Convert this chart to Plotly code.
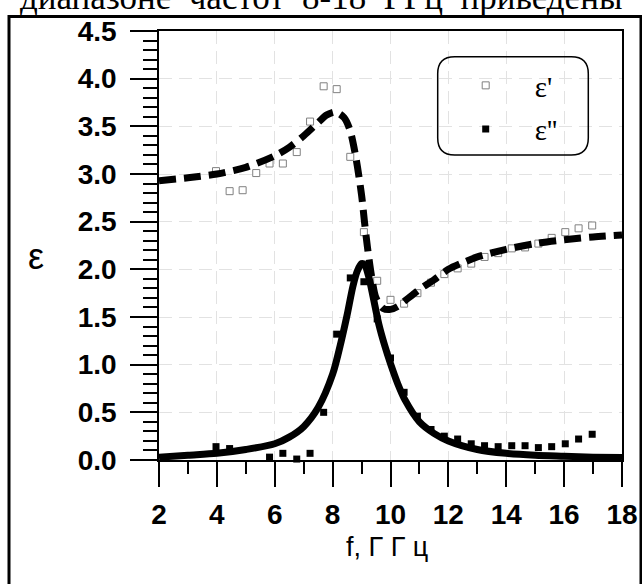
import plotly.graph_objects as go

# ---- data ----
f_meas = [3.97, 4.44, 4.89, 5.36, 5.82, 6.28, 6.76, 7.22, 7.69, 8.14, 8.61, 9.08, 9.54, 10.0,
          10.47, 10.93, 11.40, 11.86, 12.32, 12.79, 13.25, 13.72, 14.19, 14.65, 15.11, 15.57,
          16.04, 16.50, 16.97]
eps1_meas = [3.03, 2.82, 2.83, 3.01, 3.11, 3.11, 3.23, 3.55, 3.92, 3.89, 3.18, 2.39, 1.88, 1.68,
             1.64, 1.75, 1.86, 1.95, 2.01, 2.06, 2.13, 2.17, 2.22, 2.23, 2.27, 2.33, 2.39, 2.43, 2.46]
eps2_meas = [0.14, 0.12, -0.06, -0.09, 0.03, 0.07, 0.01, 0.07, 0.50, 1.32, 1.91, 1.87, 1.48, 1.07,
             0.71, 0.46, 0.32, 0.25, 0.22, 0.17, 0.15, 0.14, 0.15, 0.15, 0.13, 0.14, 0.17, 0.22, 0.27]

f_fit1 = [2.0, 3.0, 4.0, 5.0, 6.0, 6.5, 7.0, 7.5, 7.8, 8.1, 8.4, 8.6, 8.8, 9.0, 9.1, 9.2, 9.35,
          9.5, 9.75, 10.0, 10.25, 10.5, 11.0, 11.5, 12.0, 12.5, 13.0, 14.0, 15.0, 16.0, 17.0, 18.0]
eps1_fit = [2.93, 2.96, 3.00, 3.07, 3.19, 3.28, 3.40, 3.54, 3.62, 3.65, 3.59, 3.46, 3.18, 2.78,
            2.50, 2.24, 1.92, 1.70, 1.59, 1.58, 1.61, 1.67, 1.79, 1.89, 2.00, 2.07, 2.13, 2.21,
            2.27, 2.31, 2.34, 2.36]

f_fit2 = [2.0, 3.0, 4.0, 5.0, 6.0, 6.5, 7.0, 7.5, 8.0, 8.3, 8.5, 8.7, 8.85, 9.0, 9.1, 9.25, 9.4,
          9.6, 9.8, 10.0, 10.25, 10.5, 11.0, 11.5, 12.0, 13.0, 14.0, 15.0, 16.0, 17.0, 18.0]
eps2_fit = [0.03, 0.05, 0.07, 0.11, 0.17, 0.24, 0.35, 0.55, 0.90, 1.25, 1.52, 1.82, 1.98, 2.06,
            2.05, 1.92, 1.71, 1.42, 1.20, 1.01, 0.80, 0.63, 0.40, 0.28, 0.20, 0.11, 0.07, 0.05,
            0.04, 0.03, 0.025]

x_ticks = [2, 4, 6, 8, 10, 12, 14, 16, 18]
legend_names = ["ε'", "ε''"]
x_title = "f, Г Г ц"
y_title = "ε"
top_text = "диапазоне  частот  8-18  ГГц  приведены"

# ---- geometry helpers (pixels -> paper) ----
W, H = 642, 584
L, R, T, B = 159, 20, 31, 124
PW, PH = W - L - R, H - T - B


def px(x):
    return (x - L) / PW


def py(y):
    return (H - B - y) / PH


fig = go.Figure()

fig.add_trace(go.Scatter(
    x=f_meas, y=eps1_meas, mode="markers", name=legend_names[0],
    legendgroup="a", cliponaxis=False,
    marker=dict(symbol="square", size=7, color="white", line=dict(color="#808080", width=1))))
fig.add_trace(go.Scatter(
    x=f_meas, y=eps2_meas, mode="markers", name=legend_names[1],
    legendgroup="b", cliponaxis=False,
    marker=dict(symbol="square", size=7, color="black", line=dict(color="black", width=0))))
fig.add_trace(go.Scatter(
    x=f_fit1, y=eps1_fit, mode="lines", showlegend=False, cliponaxis=False,
    line=dict(color="black", width=7, dash="17px,8px", shape="spline", smoothing=0.8)))
fig.add_trace(go.Scatter(
    x=f_fit2, y=eps2_fit, mode="lines", showlegend=False, cliponaxis=False,
    line=dict(color="black", width=7, shape="spline", smoothing=0.8)))

tickfont = dict(family="Liberation Sans", size=28, color="black", weight="bold")

fig.update_xaxes(
    range=[2, 18], tickvals=x_ticks, ticks="outside", ticklen=25, tickwidth=1.5,
    tickcolor="black", showline=True, linecolor="black", linewidth=1.5, mirror=True,
    showgrid=True, gridcolor="#e2e2e2", gridwidth=1, griddash="13px,7px", zeroline=False,
    tickfont=tickfont, ticklabelstandoff=4, automargin=False,
    minor=dict(dtick=1, tick0=2, ticks="outside", ticklen=12, tickwidth=1.5,
               tickcolor="black", showgrid=False))
fig.update_yaxes(
    range=[0, 4.5], dtick=0.5, tick0=0, tickformat=".1f", ticks="outside", ticklen=27,
    tickwidth=1.5, tickcolor="black", showline=True, linecolor="black", linewidth=1.5,
    mirror=True, showgrid=True, gridcolor="#e2e2e2", gridwidth=1, griddash="13px,7px",
    zeroline=False, tickfont=tickfont, ticklabelstandoff=8, automargin=False,
    minor=dict(dtick=0.1, tick0=0, ticks="outside", ticklen=14, tickwidth=1.5,
               tickcolor="black", showgrid=False))

# rounded legend box
x0, x1 = px(437.7), px(588.3)
yt, yb = py(56.7), py(155.0)
rx, ry = 17 / PW, 17 / PH
path = (f"M {x0+rx},{yt} L {x1-rx},{yt} Q {x1},{yt} {x1},{yt-ry} L {x1},{yb+ry} "
        f"Q {x1},{yb} {x1-rx},{yb} L {x0+rx},{yb} Q {x0},{yb} {x0},{yb+ry} "
        f"L {x0},{yt-ry} Q {x0},{yt} {x0+rx},{yt} Z")

shapes = [
    dict(type="path", xref="paper", yref="paper", path=path,
         line=dict(color="black", width=1.5), fillcolor="rgba(0,0,0,0)", layer="above"),
    dict(type="rect", xref="paper", yref="paper", x0=px(9), x1=px(641), y0=py(620), y1=py(16.5),
         line=dict(color="black", width=3), fillcolor="rgba(0,0,0,0)", layer="above"),
]

annotations = [
    dict(text=y_title, xref="paper", yref="paper", x=px(35.5), y=py(256), showarrow=False,
         xanchor="center", yanchor="middle",
         font=dict(family="Liberation Sans", size=36, color="black")),
    dict(text=x_title, xref="paper", yref="paper", x=px(387), y=py(547), showarrow=False,
         xanchor="center", yanchor="middle",
         font=dict(family="Liberation Sans", size=27, color="black")),
    dict(text=top_text, xref="paper", yref="paper", x=px(18), y=py(-3), showarrow=False,
         xanchor="left", yanchor="middle",
         font=dict(family="Liberation Serif", size=35, color="black")),
]

fig.update_layout(
    width=W, height=H, margin=dict(l=L, r=R, t=T, b=B, pad=0, autoexpand=False),
    paper_bgcolor="white", plot_bgcolor="white",
    showlegend=True,
    legend=dict(x=px(436.7), y=py(60), xanchor="left", yanchor="top",
                bgcolor="rgba(0,0,0,0)", borderwidth=0, itemwidth=88,
                traceorder="grouped", tracegroupgap=3,
                font=dict(family="Liberation Serif", size=29, color="black")),
    shapes=shapes, annotations=annotations,
)

fig.write_html("out.html", config={"displayModeBar": False},
               post_script="document.body.style.margin='0';document.body.style.padding='0';")
